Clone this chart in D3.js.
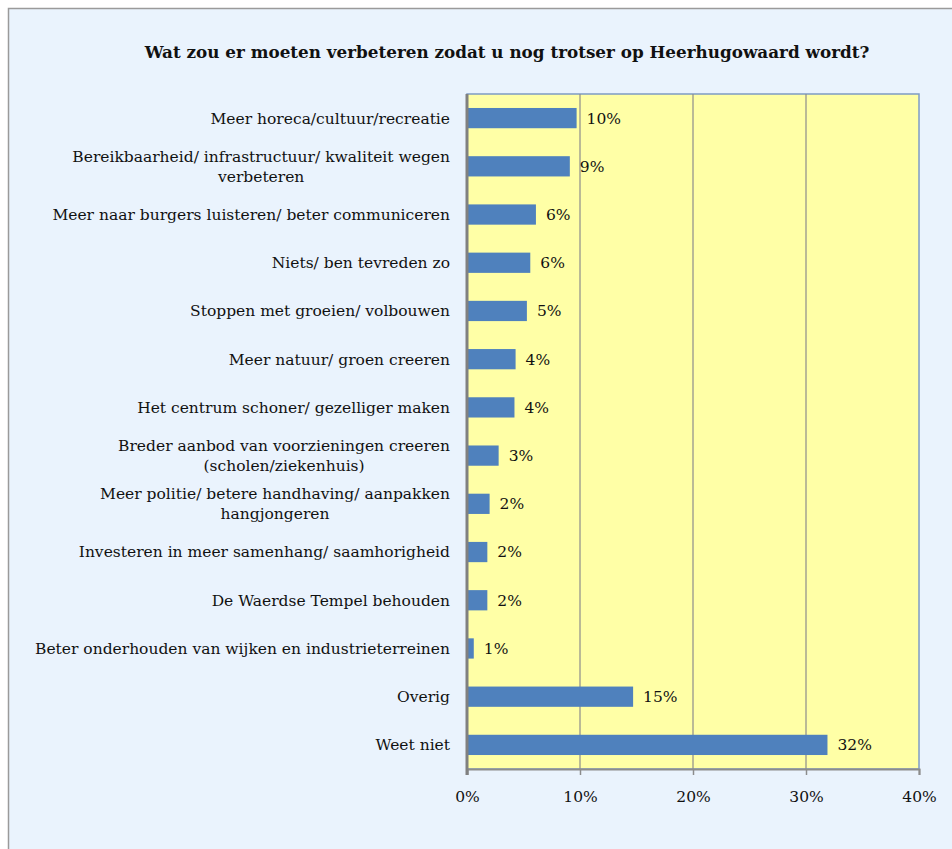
<!DOCTYPE html>
<html>
<head>
<meta charset="utf-8">
<script src="https://cdn.jsdelivr.net/npm/d3@7"></script>
<style>
  body { margin: 0; background: #fff; }
  text { font-family: "DejaVu Serif", "Liberation Serif", serif; fill: #111; }
</style>
</head>
<body>
<div id="chart"></div>
<script>
// chart data
var categories = [
  "Meer horeca/cultuur/recreatie",
  "Bereikbaarheid/ infrastructuur/ kwaliteit wegen\nverbeteren",
  "Meer naar burgers luisteren/ beter communiceren",
  "Niets/ ben tevreden zo",
  "Stoppen met groeien/ volbouwen",
  "Meer natuur/ groen creeren",
  "Het centrum schoner/ gezelliger maken",
  "Breder aanbod van voorzieningen creeren\n(scholen/ziekenhuis)",
  "Meer politie/ betere handhaving/ aanpakken\nhangjongeren",
  "Investeren in meer samenhang/ saamhorigheid",
  "De Waerdse Tempel behouden",
  "Beter onderhouden van wijken en industrieterreinen",
  "Overig",
  "Weet niet"
];
var values = [9.7, 9.1, 6.1, 5.6, 5.3, 4.3, 4.2, 2.8, 2.0, 1.8, 1.8, 0.6, 14.7, 31.9];
var valueLabels = ["10%", "9%", "6%", "6%", "5%", "4%", "4%", "3%", "2%", "2%", "2%", "1%", "15%", "32%"];
var tickValues = [0, 10, 20, 30, 40];
var title = "Wat zou er moeten verbeteren zodat u nog trotser op Heerhugowaard wordt?";

var W = 952, H = 849;
var margin = {top: 94, left: 467, right: 33, bottom: 80};
var width = 919 - margin.left,
    height = 769 - margin.top;
var fontSize = "15.5px";

var svg = d3.select("#chart").append("svg")
    .attr("width", W)
    .attr("height", H);

// light blue panel
svg.append("rect")
    .attr("x", 8.5).attr("y", 8.5)
    .attr("width", W).attr("height", H)
    .attr("fill", "#eaf3fd")
    .attr("stroke", "#9a9a9a")
    .attr("stroke-width", 1.5);

svg.append("text")
    .attr("x", 507).attr("y", 58)
    .attr("text-anchor", "middle")
    .style("font-size", "16.8px")
    .style("font-weight", "bold")
    .text(title);

var g = svg.append("g")
    .attr("transform", "translate(" + margin.left + "," + margin.top + ")");

var x = d3.scaleLinear().domain([0, 40]).range([0, width]);
var y = d3.scaleBand().domain(categories).range([0, height]).paddingInner(0.58).paddingOuter(0.29);

// plot area
g.append("rect")
    .attr("width", width).attr("height", height)
    .attr("fill", "#ffffa6")
    .attr("stroke", "#7f9cc4")
    .attr("stroke-width", 1.5);

// gridlines
g.selectAll(".grid")
    .data(tickValues.slice(1, -1))
  .enter().append("line")
    .attr("x1", function(d) { return x(d); })
    .attr("x2", function(d) { return x(d); })
    .attr("y1", 0).attr("y2", height)
    .attr("stroke", "#8c8c8c")
    .attr("stroke-width", 1.2);

// bars
g.selectAll(".bar")
    .data(values)
  .enter().append("rect")
    .attr("class", "bar")
    .attr("x", 1)
    .attr("y", function(d, i) { return y(categories[i]); })
    .attr("width", function(d) { return x(d) - 1; })
    .attr("height", y.bandwidth())
    .attr("fill", "#4f81bd");

// value labels
g.selectAll(".vlabel")
    .data(values)
  .enter().append("text")
    .attr("x", function(d) { return x(d) + 10; })
    .attr("y", function(d, i) { return y(categories[i]) + y.bandwidth() / 2; })
    .attr("dy", "0.35em")
    .style("font-size", fontSize)
    .text(function(d, i) { return valueLabels[i]; });

// x axis
var xAxis = g.append("g")
    .attr("transform", "translate(0," + height + ")")
    .call(d3.axisBottom(x).tickValues(tickValues).tickSize(6).tickPadding(16)
      .tickFormat(function(d) { return d + "%"; }));
xAxis.select(".domain").attr("stroke", "#8c8c8c").attr("stroke-width", 2);
xAxis.selectAll(".tick line").attr("stroke", "#8c8c8c").attr("stroke-width", 1.5);
xAxis.selectAll("text")
    .style("font-family", "\"DejaVu Serif\", serif")
    .style("font-size", fontSize)
    .attr("fill", "#111");

// y axis line
g.append("line")
    .attr("x1", 0).attr("x2", 0)
    .attr("y1", 0).attr("y2", height + 6)
    .attr("stroke", "#808080")
    .attr("stroke-width", 3);

// category labels
var cl = g.selectAll(".clabel")
    .data(categories)
  .enter().append("text")
    .attr("text-anchor", "middle")
    .style("font-size", fontSize);

cl.each(function(d) {
  var lines = d.split("\n");
  var t = d3.select(this);
  var cy = y(d) + y.bandwidth() / 2;
  lines.forEach(function(line, j) {
    t.append("tspan")
      .attr("x", -17)
      .attr("y", cy + (j - (lines.length - 1) / 2) * 20)
      .attr("dy", "0.35em")
      .text(line);
  });
});
// right align single lines, centre wrapped lines on the widest
cl.each(function(d) {
  var t = d3.select(this);
  var spans = t.selectAll("tspan");
  var widths = [];
  spans.each(function() { widths.push(this.getComputedTextLength()); });
  var maxW = d3.max(widths);
  spans.attr("x", -17 - maxW / 2);
});
</script>
</body>
</html>
